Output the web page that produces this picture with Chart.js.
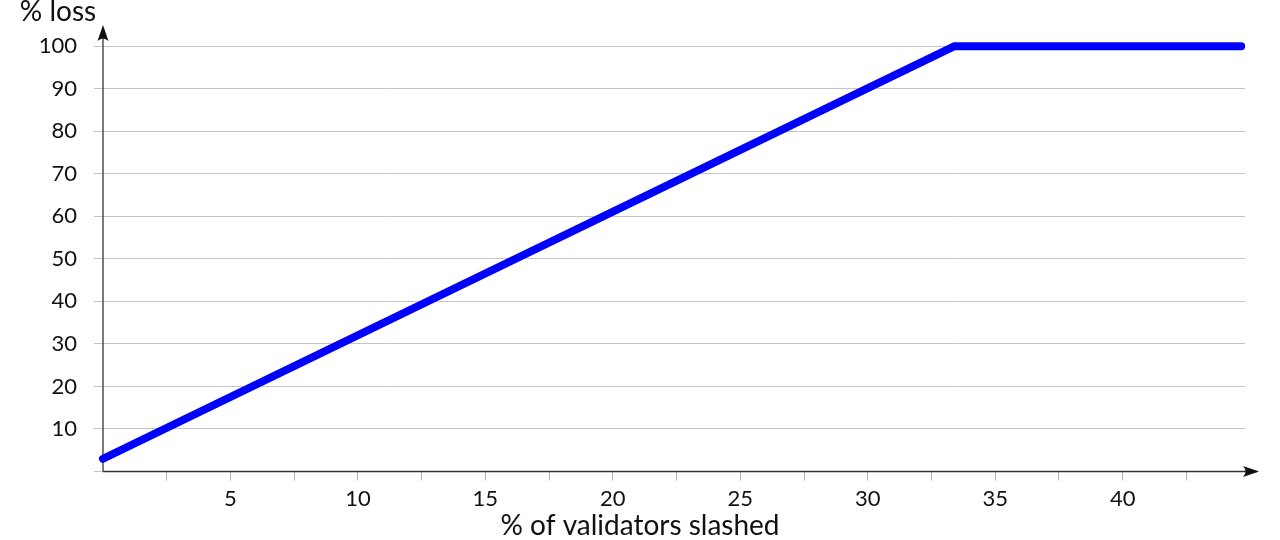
<!DOCTYPE html>
<html>
<head>
<meta charset="utf-8">
<script src="https://cdn.jsdelivr.net/npm/chart.js@4.4.1/dist/chart.umd.min.js"></script>
<style>
  html, body { margin: 0; padding: 0; background: #fff; }
  #wrap { width: 1280px; height: 540px; position: relative; }
</style>
</head>
<body>
<div id="wrap"><canvas id="grafico"></canvas></div>
<script>
// datos
const validatorsSlashed = [0, 33.4, 44.65];
const lossPercent = [3, 100, 100];
const yTicks = [10, 20, 30, 40, 50, 60, 70, 80, 90, 100];
const xTicks = [2.5, 5, 7.5, 10, 12.5, 15, 17.5, 20, 22.5, 25, 27.5, 30, 32.5, 35, 37.5, 40, 42.5];
const xLabel = '% of validators slashed';
const yLabel = '% loss';

const FONT = 'Lato, "Open Sans", sans-serif';

// flechas de los ejes y titulos
const ejesPlugin = {
    id: 'ejes',
    beforeDatasetsDraw(chart) {
        const { ctx, chartArea } = chart;
        const x0 = chart.scales.x.getPixelForValue(0);
        const y0 = chart.scales.y.getPixelForValue(0);
        ctx.save();
        ctx.strokeStyle = '#333';
        ctx.fillStyle = '#111';
        ctx.lineWidth = 1.3;
        // eje x
        ctx.beginPath();
        ctx.moveTo(x0, y0);
        ctx.lineTo(chartArea.right + 12, y0);
        ctx.stroke();
        flecha(ctx, chartArea.right + 14, y0, 0);
        // eje y
        ctx.beginPath();
        ctx.moveTo(x0, y0);
        ctx.lineTo(x0, chartArea.top + 3);
        ctx.stroke();
        flecha(ctx, x0, chartArea.top, -Math.PI / 2);
        ctx.restore();
    },
    afterDraw(chart) {
        const { ctx } = chart;
        ctx.save();
        ctx.fillStyle = '#111';
        ctx.font = '28px ' + FONT;
        ctx.textBaseline = 'middle';
        ctx.textAlign = 'center';
        ctx.fillText(yLabel, 58, 12);
        ctx.fillText(xLabel, 640, 526);
        ctx.restore();
    }
};

function flecha(ctx, x, y, ang) {
    ctx.save();
    ctx.translate(x, y);
    ctx.rotate(ang);
    ctx.beginPath();
    ctx.moveTo(0, 0);
    ctx.lineTo(-16, -5.5);
    ctx.quadraticCurveTo(-11, 0, -16, 5.5);
    ctx.closePath();
    ctx.fill();
    ctx.restore();
}

const puntos = validatorsSlashed.map((v, i) => ({ x: v, y: lossPercent[i] }));

new Chart(document.getElementById('grafico'), {
    type: 'line',
    data: {
        datasets: [{
            data: puntos,
            borderColor: '#0000ff',
            borderWidth: 8,
            borderCapStyle: 'round',
            borderJoinStyle: 'miter',
            pointRadius: 0,
            fill: false,
            clip: false,
            tension: 0
        }]
    },
    options: {
        responsive: true,
        maintainAspectRatio: false,
        animation: false,
        layout: { padding: { top: 25, right: 35, left: 0, bottom: 0 } },
        plugins: {
            legend: { display: false },
            tooltip: { enabled: false }
        },
        scales: {
            x: {
                type: 'linear',
                min: 0,
                max: 44.8,
                afterFit(scale) {
                    scale.height = 68.5;
                    scale.paddingLeft = 0;
                    scale.paddingRight = 0;
                },
                afterBuildTicks(scale) { scale.ticks = xTicks.map(v => ({ value: v })); },
                border: { display: false },
                grid: {
                    drawOnChartArea: false,
                    drawTicks: true,
                    tickLength: 9,
                    color: '#b5b5b5'
                },
                ticks: {
                    padding: 5,
                    maxRotation: 0,
                    autoSkip: false,
                    color: '#111',
                    font: { family: FONT, size: 22 },
                    callback: v => (v % 5 === 0 ? v : '')
                }
            },
            y: {
                type: 'linear',
                min: 0,
                max: 105,
                afterFit(scale) {
                    scale.width = 103;
                    scale.paddingTop = 0;
                    scale.paddingBottom = 0;
                },
                afterBuildTicks(scale) { scale.ticks = [0].concat(yTicks).map(v => ({ value: v })); },
                border: { display: false },
                grid: {
                    color: '#c4c4c4',
                    lineWidth: 1,
                    tickLength: 9
                },
                ticks: {
                    padding: 17,
                    autoSkip: false,
                    color: '#111',
                    font: { family: FONT, size: 22 },
                    callback: v => (v === 0 ? '' : v)
                }
            }
        }
    },
    plugins: [ejesPlugin]
});
</script>
</body>
</html>
